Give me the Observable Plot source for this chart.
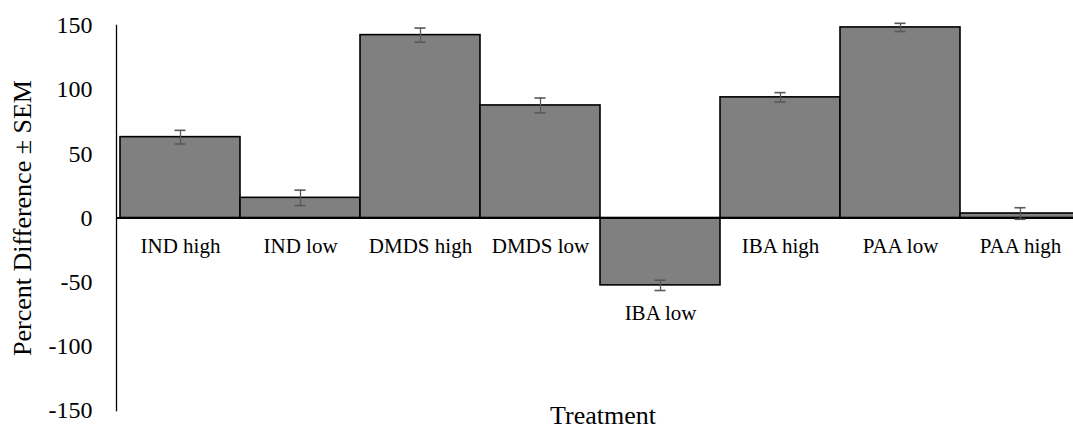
<!DOCTYPE html>
<html>
<head>
<meta charset="utf-8">
<script src="https://cdn.jsdelivr.net/npm/d3@7"></script>
<script src="https://cdn.jsdelivr.net/npm/@observablehq/plot@0.6"></script>
<style>
  html, body { margin: 0; padding: 0; background: #fff; overflow: hidden; }
  #chart svg { display: block; }
  #chart svg text { font-family: "Liberation Serif", "Times New Roman", serif; }
</style>
</head>
<body>
<div id="chart"></div>
<script>
// Percent difference per treatment, with standard error of the mean
const treatments = ["IND high", "IND low", "DMDS high", "DMDS low", "IBA low", "IBA high", "PAA low", "PAA high"];
const values = [63, 15.7, 142.5, 87.7, -52.5, 94, 148.5, 3.5];
const sems = [5.3, 6, 5.5, 5.8, 4, 3.7, 3.2, 4.5];
const yTicks = [-150, -100, -50, 0, 50, 100, 150];

const data = treatments.map((t, i) => ({treatment: t, value: values[i], sem: sems[i]}));

const serif = "Liberation Serif, Times New Roman, serif";
const chartWidth = 1073, chartHeight = 429;
const padLeft = 116, padTop = 25, padBottom = 19;
const step = 120.9;
const capHalf = 6;

const chart = Plot.plot({
  width: chartWidth,
  height: chartHeight,
  marginLeft: padLeft,
  marginRight: 0,
  marginTop: padTop,
  marginBottom: padBottom,
  style: {fontFamily: serif, background: "#fff", color: "#000", overflow: "hidden"},
  x: {domain: treatments, range: [padLeft, padLeft + step * treatments.length], padding: 0, axis: null},
  y: {domain: [-150, 150], axis: null},
  marks: [
    Plot.barY(data, {x: "treatment", y: "value", fill: "#808080", stroke: "#000", strokeWidth: 1.6}),
    Plot.ruleY([0], {stroke: "#000", strokeWidth: 2}),
    Plot.frame({anchor: "left", stroke: "#000", strokeWidth: 1.3}),
    // error bars: stem plus two caps
    Plot.ruleX(data, {x: "treatment", y1: d => d.value - d.sem, y2: d => d.value + d.sem, stroke: "#595959", strokeWidth: 1.3}),
    Plot.tickY(data, {x: "treatment", y: d => d.value + d.sem, stroke: "#595959", strokeWidth: 1.6,
      insetLeft: step / 2 - capHalf, insetRight: step / 2 - capHalf}),
    Plot.tickY(data, {x: "treatment", y: d => d.value - d.sem, stroke: "#595959", strokeWidth: 1.6,
      insetLeft: step / 2 - capHalf, insetRight: step / 2 - capHalf}),
    // category labels sit below the zero line, or below a negative bar
    Plot.text(data, {x: "treatment", y: d => Math.min(0, d.value), text: "treatment",
      lineAnchor: "top", dy: 20, fontSize: 21, fontFamily: serif, fill: "#000"}),
    Plot.axisY({ticks: yTicks, label: null, tickSize: 0, tickPadding: 24, fontSize: 24, fontFamily: serif,
      tickFormat: d => String(d), fill: "#000"}),
    Plot.text(["Percent Difference \u00b1 SEM"], {frameAnchor: "left", dx: -94, rotate: -90,
      textAnchor: "middle", lineAnchor: "middle", fontSize: 26, fontFamily: serif, fill: "#000"}),
    Plot.text(["Treatment"], {frameAnchor: "bottom", dx: 8, dy: 5, textAnchor: "middle", lineAnchor: "middle",
      fontSize: 26, fontFamily: serif, fill: "#000"})
  ]
});

document.getElementById("chart").append(chart);
</script>
</body>
</html>
